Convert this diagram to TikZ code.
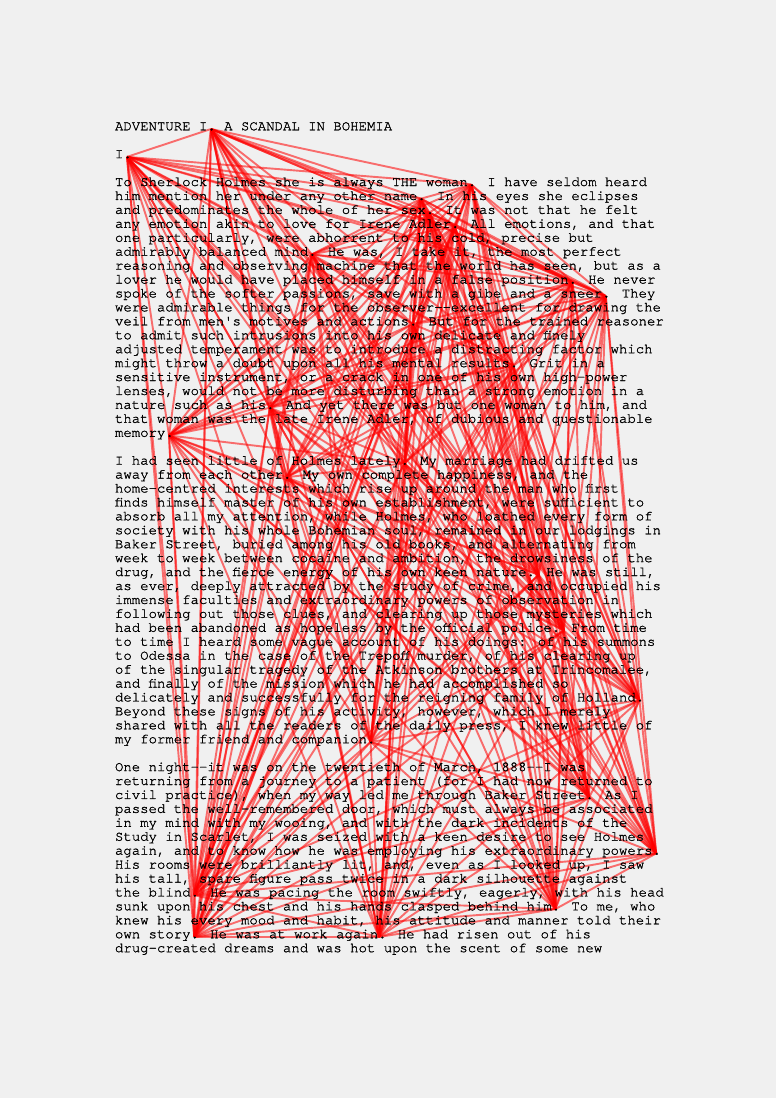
\documentclass[tikz,border=0pt]{standalone}
\usepackage{fontspec}
\newfontfamily\monofnt{texgyrecursor-regular.otf}[RawFeature={embolden=1.2}]
\newcommand\TLine[2]{\node[txtline] (l#1) at (115,{130.3+13.93*#1}) {#2};}
\newcommand\Pnt[3]{\coordinate (p#1) at ({115+8.4*#3+3.6},{129+13.93*#2});}
\begin{document}
\begin{tikzpicture}[x=1pt,y=-1pt,
  txtline/.style={anchor=base west,inner sep=0pt,outer sep=0pt,font=\monofnt\fontsize{14}{14}\selectfont,text=black},
  edge/.style={draw=red,line width=1.9pt,opacity=0.55}]
\definecolor{bg}{RGB}{240,240,240}
\fill[bg] (0,0) rectangle (776,1098);
\useasboundingbox (0,0) rectangle (776,1098);
% vertices at the full stops: {index}{line}{column}
\Pnt{1}{0}{11}
\Pnt{2}{2}{1}
\Pnt{3}{4}{42}
\Pnt{4}{5}{36}
\Pnt{5}{6}{37}
\Pnt{6}{7}{40}
\Pnt{7}{9}{23}
\Pnt{8}{11}{54}
\Pnt{9}{12}{58}
\Pnt{10}{14}{35}
\Pnt{11}{17}{47}
\Pnt{12}{20}{18}
\Pnt{13}{22}{6}
\Pnt{14}{24}{34}
\Pnt{15}{25}{20}
\Pnt{16}{32}{50}
\Pnt{17}{36}{53}
\Pnt{18}{41}{62}
\Pnt{19}{44}{30}
\Pnt{20}{48}{56}
\Pnt{21}{52}{64}
\Pnt{22}{55}{9}
\Pnt{23}{56}{52}
\Pnt{24}{58}{9}
\Pnt{25}{58}{31}
% every full stop joined to every other
\foreach \i in {1,...,25}{
  \foreach \j in {1,...,25}{
    \ifnum\j>\i\relax
      \draw[edge] (p\i) -- (p\j);
    \fi
  }
}
% text
\TLine{0}{ADVENTURE I. A SCANDAL IN BOHEMIA}
\TLine{2}{I.}
\TLine{4}{To Sherlock Holmes she is always THE woman. I have seldom heard}
\TLine{5}{him mention her under any other name. In his eyes she eclipses}
\TLine{6}{and predominates the whole of her sex. It was not that he felt}
\TLine{7}{any emotion akin to love for Irene Adler. All emotions, and that}
\TLine{8}{one particularly, were abhorrent to his cold, precise but}
\TLine{9}{admirably balanced mind. He was, I take it, the most perfect}
\TLine{10}{reasoning and observing machine that the world has seen, but as a}
\TLine{11}{lover he would have placed himself in a false position. He never}
\TLine{12}{spoke of the softer passions, save with a gibe and a sneer. They}
\TLine{13}{were admirable things for the observer--excellent for drawing the}
\TLine{14}{veil from men's motives and actions. But for the trained reasoner}
\TLine{15}{to admit such intrusions into his own delicate and finely}
\TLine{16}{adjusted temperament was to introduce a distracting factor which}
\TLine{17}{might throw a doubt upon all his mental results. Grit in a}
\TLine{18}{sensitive instrument, or a crack in one of his own high-power}
\TLine{19}{lenses, would not be more disturbing than a strong emotion in a}
\TLine{20}{nature such as his. And yet there was but one woman to him, and}
\TLine{21}{that woman was the late Irene Adler, of dubious and questionable}
\TLine{22}{memory.}
\TLine{24}{I had seen little of Holmes lately. My marriage had drifted us}
\TLine{25}{away from each other. My own complete happiness, and the}
\TLine{26}{home-centred interests which rise up around the man who first}
\TLine{27}{finds himself master of his own establishment, were sufficient to}
\TLine{28}{absorb all my attention, while Holmes, who loathed every form of}
\TLine{29}{society with his whole Bohemian soul, remained in our lodgings in}
\TLine{30}{Baker Street, buried among his old books, and alternating from}
\TLine{31}{week to week between cocaine and ambition, the drowsiness of the}
\TLine{32}{drug, and the fierce energy of his own keen nature. He was still,}
\TLine{33}{as ever, deeply attracted by the study of crime, and occupied his}
\TLine{34}{immense faculties and extraordinary powers of observation in}
\TLine{35}{following out those clues, and clearing up those mysteries which}
\TLine{36}{had been abandoned as hopeless by the official police. From time}
\TLine{37}{to time I heard some vague account of his doings: of his summons}
\TLine{38}{to Odessa in the case of the Trepoff murder, of his clearing up}
\TLine{39}{of the singular tragedy of the Atkinson brothers at Trincomalee,}
\TLine{40}{and finally of the mission which he had accomplished so}
\TLine{41}{delicately and successfully for the reigning family of Holland.}
\TLine{42}{Beyond these signs of his activity, however, which I merely}
\TLine{43}{shared with all the readers of the daily press, I knew little of}
\TLine{44}{my former friend and companion.}
\TLine{46}{One night--it was on the twentieth of March, 1888--I was}
\TLine{47}{returning from a journey to a patient (for I had now returned to}
\TLine{48}{civil practice), when my way led me through Baker Street. As I}
\TLine{49}{passed the well-remembered door, which must always be associated}
\TLine{50}{in my mind with my wooing, and with the dark incidents of the}
\TLine{51}{Study in Scarlet, I was seized with a keen desire to see Holmes}
\TLine{52}{again, and to know how he was employing his extraordinary powers.}
\TLine{53}{His rooms were brilliantly lit, and, even as I looked up, I saw}
\TLine{54}{his tall, spare figure pass twice in a dark silhouette against}
\TLine{55}{the blind. He was pacing the room swiftly, eagerly, with his head}
\TLine{56}{sunk upon his chest and his hands clasped behind him. To me, who}
\TLine{57}{knew his every mood and habit, his attitude and manner told their}
\TLine{58}{own story. He was at work again. He had risen out of his}
\TLine{59}{drug-created dreams and was hot upon the scent of some new}
\end{tikzpicture}
\end{document}
